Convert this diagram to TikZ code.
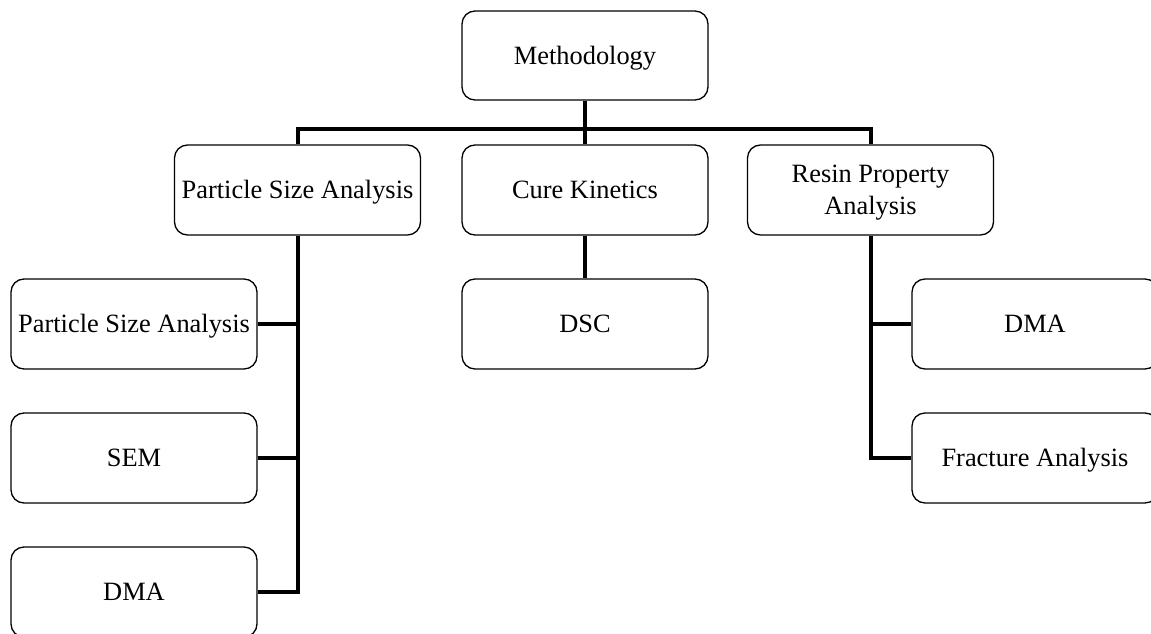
\documentclass[tikz,border=0pt]{standalone}
\usepackage{fontspec}
\setmainfont{Liberation Serif}
\tikzset{
  box/.style={draw=black, line width=1.3pt, rounded corners=13pt, rectangle,
    minimum width=246pt, minimum height=90pt, inner sep=0pt, align=center,
    font=\fontsize{26.4}{32}\selectfont, fill=white,
    text height=17.3pt, text depth=0pt},
  boxtext/.style={inner sep=0pt, align=center, font=\fontsize{26.4}{32}\selectfont},
  conn/.style={draw=black, line width=4pt}
}
\begin{document}
\begin{tikzpicture}[x=1pt,y=-1pt]
\useasboundingbox (0,0) rectangle (1151,634);
\clip (0,0) rectangle (1151,634);
\fill[white] (0,0) rectangle (1151,634);
\coordinate (bar) at (0,129);
\node[box, minimum height=89pt] (meth) at (585,55.5) {Methodology};
\node[box] (psa) at (297.5,190) {Particle Size Analysis};
\node[box] (cure) at (585,190) {Cure Kinetics};
\node[box] (resin) at (870.5,190) {};
\node[boxtext] (resintext) at ([yshift=-3pt]resin.center) {Resin Property\\Analysis};
\node[box] (psa1) at (134,324) {Particle Size Analysis};
\node[box] (sem) at (134,458) {SEM};
\node[box] (dma1) at (134,592) {DMA};
\node[box] (dsc) at (585,324) {DSC};
\node[box] (dma2) at (1035,324) {DMA};
\node[box] (frac) at (1035,458) {Fracture Analysis};
% level 1 -> 2
\draw[conn] (meth.south) -- (cure.north);
\draw[conn] (psa.north) -- (psa.north |- bar) -- (resin.north |- bar) -- (resin.north);
% particle size children
\draw[conn] (psa.south) |- (dma1.east);
\draw[conn] (psa1.east) -- (psa1.east -| psa.south);
\draw[conn] (sem.east) -- (sem.east -| psa.south);
% cure kinetics child
\draw[conn] (cure.south) -- (dsc.north);
% resin children
\draw[conn] (resin.south) |- (frac.west);
\draw[conn] (dma2.west) -- (dma2.west -| resin.south);
\end{tikzpicture}
\end{document}
